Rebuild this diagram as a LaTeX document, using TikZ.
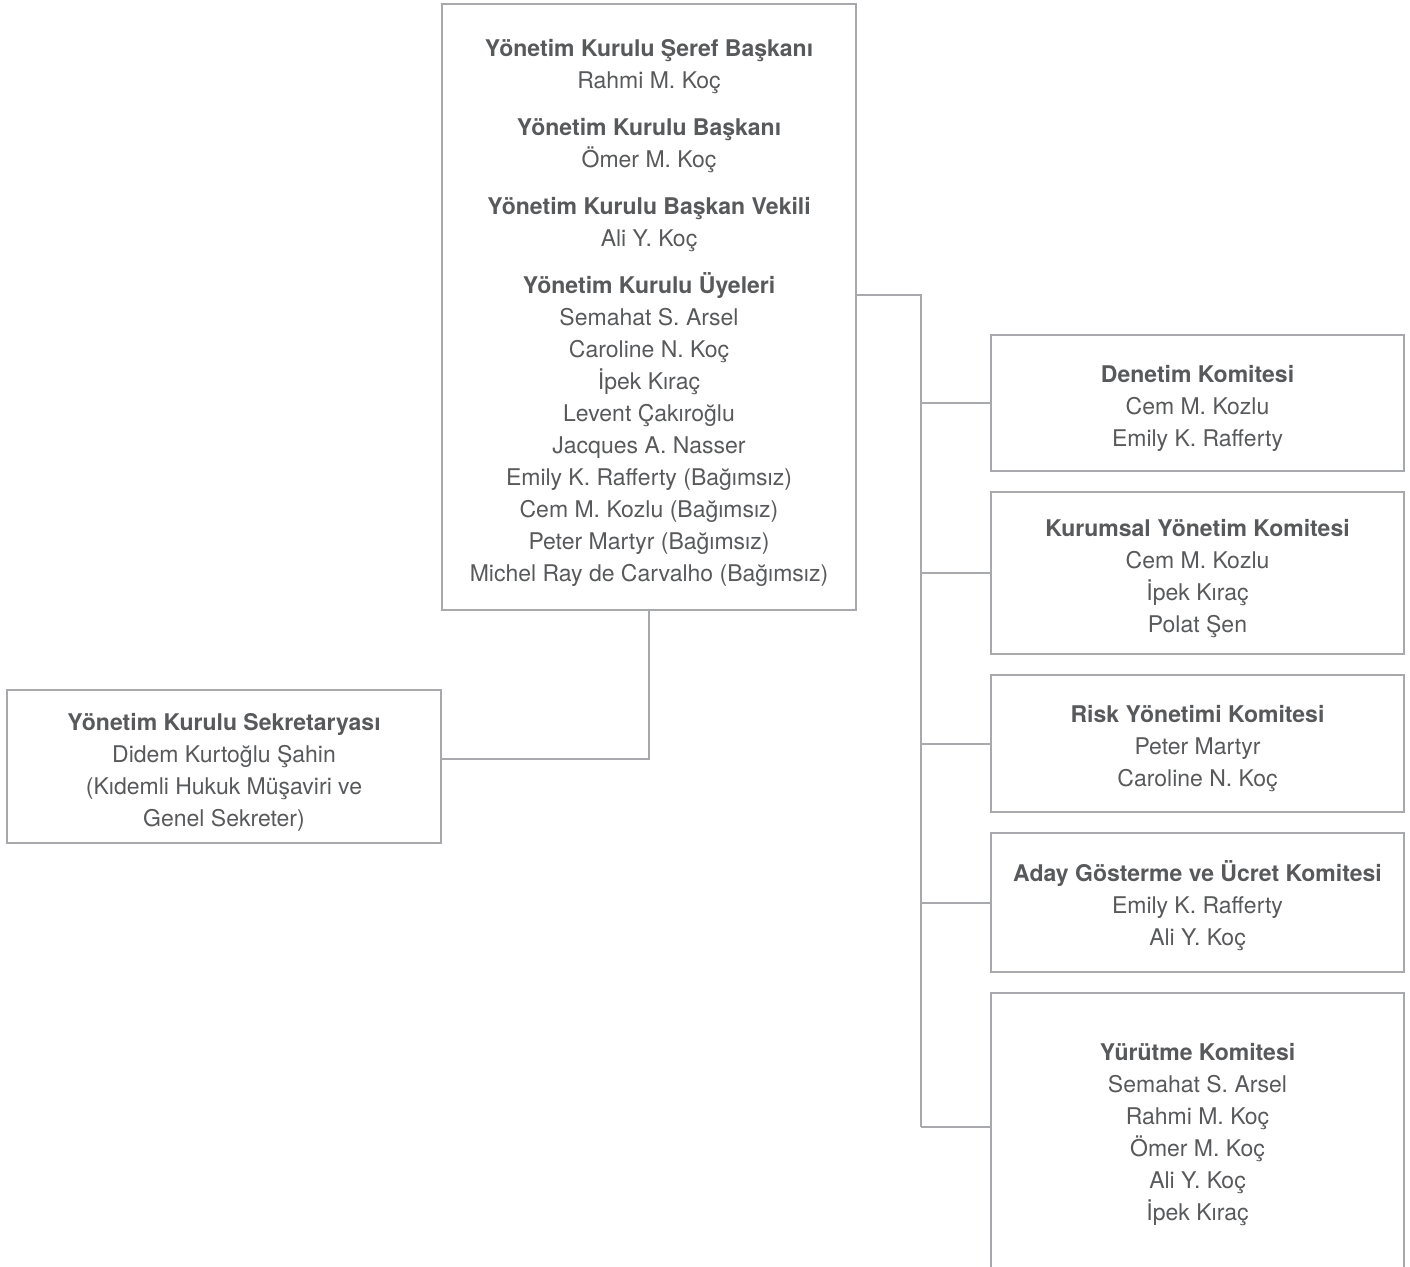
\documentclass[tikz,border=0pt]{standalone}
\usepackage{fontspec}
\setmainfont{TeX Gyre Heros}
\usepackage{tikz}
\usetikzlibrary{positioning}

\definecolor{boxgray}{HTML}{A7A9AC}
\definecolor{txtgray}{HTML}{58595B}
\newcommand\lift{\rule{0pt}{28pt}}

\begin{document}
\begin{tikzpicture}[
  x=1pt, y=-1pt,
  unit/.style={draw=boxgray, line width=2pt, inner sep=0pt, align=center,
               text=txtgray, font=\fontsize{23}{32}\selectfont},
  kom/.style={unit, minimum width=413pt},
  link/.style={draw=boxgray, line width=2pt}
]
  \clip (0,0) rectangle (1410,1266);
  \useasboundingbox (0,0) rectangle (1410,1266);

  \node[unit, minimum width=414pt, minimum height=606pt] (main) at (649,307) {%
    \lift\textbf{Yönetim Kurulu Şeref Başkanı}\\ Rahmi M. Koç\\[15pt]
    \textbf{Yönetim Kurulu Başkanı}\\ Ömer M. Koç\\[15pt]
    \textbf{Yönetim Kurulu Başkan Vekili}\\ Ali Y. Koç\\[15pt]
    \textbf{Yönetim Kurulu Üyeleri}\\ Semahat S. Arsel\\ Caroline N. Koç\\
    İpek Kıraç\\ Levent Çakıroğlu\\ Jacques A. Nasser\\
    Emily K. Rafferty (Bağımsız)\\ Cem M. Kozlu (Bağımsız)\\
    Peter Martyr (Bağımsız)\\ Michel Ray de Carvalho (Bağımsız)};

  \node[unit, minimum width=434pt, minimum height=153pt] (sek) at (224,766.5) {%
    \lift\textbf{Yönetim Kurulu Sekretaryası}\\ Didem Kurtoğlu Şahin\\
    (Kıdemli Hukuk Müşaviri ve\\ Genel Sekreter)};

  \node[kom, minimum height=136pt] (den) at (1197.5,403) {%
    \lift\textbf{Denetim Komitesi}\\ Cem M. Kozlu\\ Emily K. Rafferty};
  \node[kom, minimum height=162pt] (kur) at (1197.5,573) {%
    \lift\textbf{Kurumsal Yönetim Komitesi}\\ Cem M. Kozlu\\ İpek Kıraç\\ Polat Şen};
  \node[kom, minimum height=137pt] (risk) at (1197.5,743.5) {%
    \lift\textbf{Risk Yönetimi Komitesi}\\ Peter Martyr\\ Caroline N. Koç};
  \node[kom, minimum height=139pt] (aday) at (1197.5,902.5) {%
    \lift\textbf{Aday Gösterme ve Ücret Komitesi}\\ Emily K. Rafferty\\ Ali Y. Koç};
  \node[kom, minimum height=284pt] (yur) at (1197.5,1135) {%
    \textbf{Yürütme Komitesi}\\ Semahat S. Arsel\\ Rahmi M. Koç\\
    Ömer M. Koç\\ Ali Y. Koç\\ İpek Kıraç};

  \coordinate (trunk) at (921,295);
  \coordinate (yurin) at ([yshift=8pt]yur.west);
  \draw[link] (main.east |- trunk) -- (trunk) -- (trunk |- yurin);
  \foreach \c in {den,kur,risk,aday,yurin}
    \draw[link] (trunk |- \c) -- (\c);

  \draw[link] (main.south) |- ([yshift=8pt]sek.east);
\end{tikzpicture}
\end{document}
